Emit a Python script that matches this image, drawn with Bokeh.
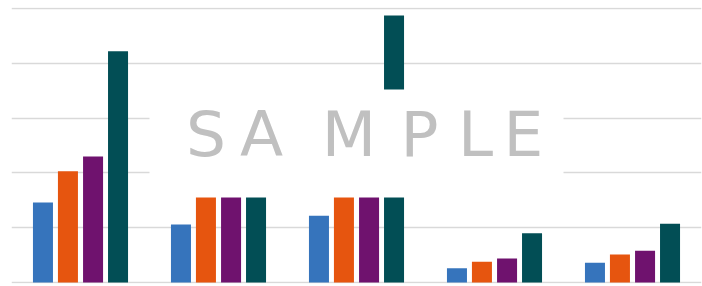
from bokeh.plotting import figure
from bokeh.models import FactorRange, Range1d, BoxAnnotation, Label, SingleIntervalTicker, ColumnDataSource
from bokeh.transform import dodge
from bokeh.embed import file_html
from bokeh.resources import INLINE

categories = ["A", "B", "C", "D", "E"]
series1 = [14.6, 10.6, 12.2, 2.6, 3.6]
series2 = [20.3, 16.5, 17.5, 3.8, 5.1]
series3 = [23.0, 17.5, 18.5, 4.4, 5.8]
series4 = [42.2, 21.0, 48.7, 9.0, 10.7]
colors = ["#3674BC", "#E6550F", "#6F126E", "#024E55"]

watermark_letters = ["S", "A", "M", "P", "L", "E"]
watermark_x = [1.409, 1.812, 2.446, 2.957, 3.362, 3.710]

src = ColumnDataSource(dict(cat=categories, s1=series1, s2=series2, s3=series3, s4=series4))

p = figure(x_range=FactorRange(*categories), y_range=Range1d(-0.18, 50.18),
           width=702, height=286, output_backend="svg", toolbar_location=None,
           min_border_left=11, min_border_right=1, min_border_top=7, min_border_bottom=3)

offsets = [-0.272, -0.091, 0.091, 0.272]
for key, off, col in zip(["s1", "s2", "s3", "s4"], offsets, colors):
    p.vbar(x=dodge("cat", off, range=p.x_range), top=key, width=0.145, source=src,
           fill_color=col, line_color=None)

p.xaxis.visible = False
p.yaxis.visible = False
p.xgrid.visible = False
p.ygrid.ticker = SingleIntervalTicker(interval=10)
p.ygrid.grid_line_color = "#d9d9d9"
p.ygrid.grid_line_width = 1.6
p.ygrid.level = "underlay"
p.outline_line_color = None
p.background_fill_color = "white"
p.border_fill_color = "white"

box = BoxAnnotation(left=1.0, right=4.0, bottom=15.5, top=35.2,
                    fill_color="white", fill_alpha=1.0, line_color=None)
p.add_layout(box)

for ch, xx in zip(watermark_letters, watermark_x):
    p.add_layout(Label(x=xx, y=27.0, text=ch, text_font="DejaVu Sans", text_font_size="63px",
                       text_color="#c0c0c0", text_align="center", text_baseline="middle"))

open("out.html", "w").write(file_html(p, INLINE))
